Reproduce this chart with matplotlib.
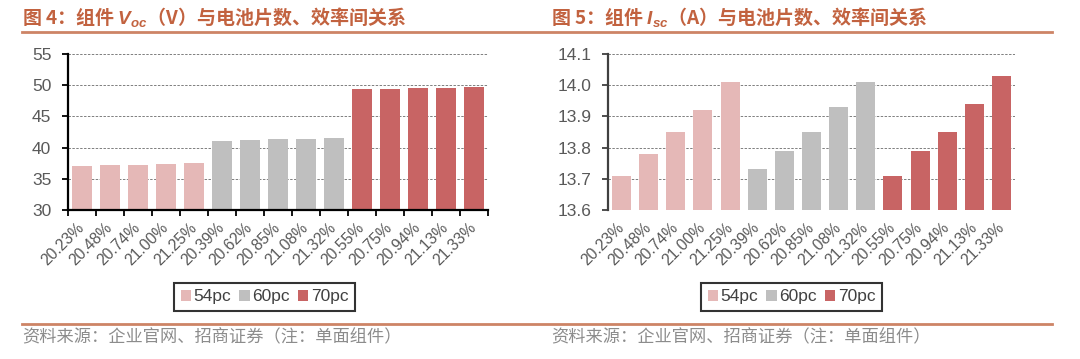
import numpy as np
import matplotlib
matplotlib.use('Agg')
import matplotlib.pyplot as plt
from matplotlib.patches import Patch
from matplotlib.lines import Line2D

plt.rcParams['font.family'] = ['Liberation Sans', 'Noto Sans CJK SC']
plt.rcParams['mathtext.fontset'] = 'custom'
plt.rcParams['mathtext.it'] = 'Liberation Sans:italic:bold'
plt.rcParams['mathtext.rm'] = 'Liberation Sans:bold'
plt.rcParams['mathtext.bf'] = 'Liberation Sans:bold'

# 数据
eff_labels = ['20.23%', '20.48%', '20.74%', '21.00%', '21.25%',
              '20.39%', '20.62%', '20.85%', '21.08%', '21.32%',
              '20.55%', '20.75%', '20.94%', '21.13%', '21.33%']
groups = ['54pc', '60pc', '70pc']
voc_54 = [37.07, 37.17, 37.28, 37.39, 37.55]
voc_60 = [41.13, 41.24, 41.30, 41.40, 41.56]
voc_70 = [49.33, 49.43, 49.49, 49.60, 49.70]
isc_54 = [13.71, 13.78, 13.85, 13.92, 14.01]
isc_60 = [13.73, 13.79, 13.85, 13.93, 14.01]
isc_70 = [13.71, 13.79, 13.85, 13.94, 14.03]

colors = ['#E5B8B7', '#BFBFBF', '#C86464']
title_color = '#C2623F'
line_color = '#CD8466'
tick_color = '#595959'
cjk = ['Noto Sans CJK SC', 'DejaVu Sans']

W, H = 1080, 359
fig = plt.figure(figsize=(W / 100, H / 100), dpi=100)


def px_axes(x0, y0, x1, y1):
    return fig.add_axes([x0 / W, 1 - y1 / H, (x1 - x0) / W, (y1 - y0) / H])


def draw(ax, series, ylim, yticks, fmt, bottom_axis, spine_color):
    x = np.arange(len(eff_labels))
    vals = []
    cols = []
    for s, c in zip(series, colors):
        vals += s
        cols += [c] * len(s)
    ax.bar(x, np.array(vals) - ylim[0], bottom=ylim[0], width=0.7, color=cols, zorder=2)
    ax.set_xlim(-0.5, len(eff_labels) - 0.5)
    ax.set_ylim(*ylim)
    ax.set_yticks(yticks)
    ax.set_yticklabels([fmt.format(v) for v in yticks])
    ax.yaxis.grid(True, linestyle=(0, (2.5, 1.5)), color='#7F7F7F', linewidth=0.7)
    ax.set_axisbelow(True)
    for s in ['top', 'right']:
        ax.spines[s].set_visible(False)
    ax.spines['left'].set_color(spine_color)
    ax.spines['left'].set_linewidth(1.6)
    ax.tick_params(axis='y', direction='out', length=4, width=1.3, color=spine_color,
                   labelsize=12.5, labelcolor=tick_color, pad=8)
    ax.set_xticks(x)
    ax.set_xticklabels(eff_labels, rotation=45, ha='right', va='center',
                       rotation_mode='anchor', fontsize=11.3, color=tick_color)
    ax.tick_params(axis='x', which='major', length=0, pad=11)
    if bottom_axis:
        ax.spines['bottom'].set_color('black')
        ax.spines['bottom'].set_linewidth(1.6)
        ax.set_xticks(np.arange(-0.5, len(eff_labels), 1), minor=True)
        ax.tick_params(axis='x', which='minor', direction='out', length=4, width=1.3, color='black')
    else:
        ax.spines['bottom'].set_visible(False)


ax1 = px_axes(68, 54, 488, 210)
draw(ax1, [voc_54, voc_60, voc_70], (30, 55), [30, 35, 40, 45, 50, 55], '{:.0f}', True, 'black')
ax2 = px_axes(608, 54, 1015, 210)
draw(ax2, [isc_54, isc_60, isc_70], (13.6, 14.1), [13.6, 13.7, 13.8, 13.9, 14.0, 14.1], '{:.1f}', False, '#404040')

# 图例
handles = [Patch(facecolor=c, edgecolor='none') for c in colors]
for cx in [264.5, 791.5]:
    fig.legend(handles, groups, loc='center', bbox_to_anchor=(cx / W, 1 - 297 / H),
               ncol=3, frameon=True, fancybox=False, edgecolor='black', fontsize=12.5,
               handlelength=0.6, handleheight=0.6, handletextpad=0.15, columnspacing=0.45,
               borderpad=0.4, borderaxespad=0, labelcolor='#404040').get_frame().set_linewidth(1.5)

# 标题
fig.text(22 / W, 1 - 17 / H, '图 4：组件 $V_{oc}$（V）与电池片数、效率间关系', family=cjk,
         fontsize=13.7, fontweight='bold', color=title_color, va='center', ha='left')
fig.text(551 / W, 1 - 17 / H, '图 5：组件 $I_{sc}$（A）与电池片数、效率间关系', family=cjk,
         fontsize=13.7, fontweight='bold', color=title_color, va='center', ha='left')

for yy in [32, 324]:
    fig.add_artist(Line2D([22 / W, 1052 / W], [1 - yy / H, 1 - yy / H], color=line_color, linewidth=2))

src = '资料来源：企业官网、招商证券（注：单面组件）'
fig.text(22 / W, 1 - 337 / H, src, family=cjk, fontsize=12.4, color='#8C8C8C', va='center', ha='left')
fig.text(551 / W, 1 - 337 / H, src, family=cjk, fontsize=12.4, color='#8C8C8C', va='center', ha='left')

fig.savefig('out.png', dpi=100)
